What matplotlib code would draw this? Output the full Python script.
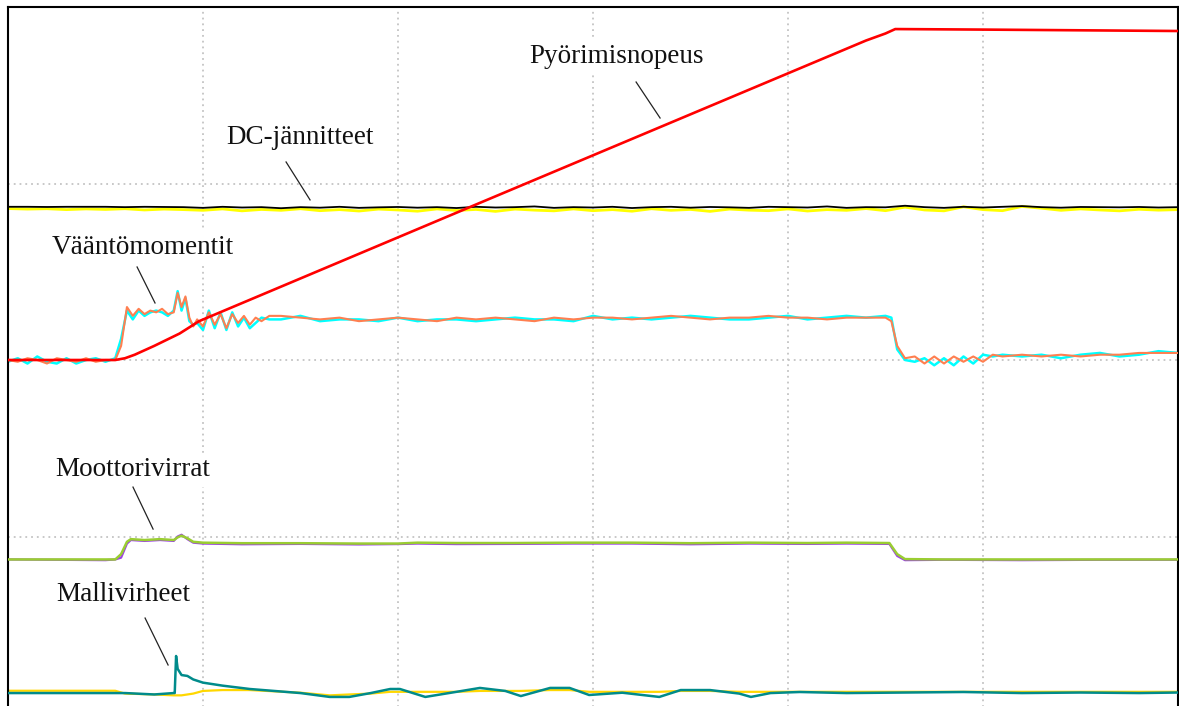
import matplotlib
matplotlib.use("Agg")
import matplotlib.pyplot as plt

# ---------------- data (time and amplitude in screen divisions) ----------------
speed_t = [0.0, 0.55, 0.60, 0.65, 0.75, 0.88, 0.98, 2.37, 4.40, 4.50, 4.55, 5.0, 5.5, 6.0]
speed = [2.0, 2.0, 2.01, 2.03, 2.08, 2.15, 2.22, 2.867, 3.81, 3.85, 3.875, 3.872, 3.868, 3.864]

dc_t = [0.0, 0.1, 0.2, 0.3, 0.4, 0.5, 0.6, 0.7, 0.8, 0.9,
        1.0, 1.1, 1.2, 1.3, 1.4, 1.5, 1.6, 1.7, 1.8, 1.9,
        2.0, 2.1, 2.2, 2.3, 2.4, 2.5, 2.6, 2.7, 2.8, 2.9,
        3.0, 3.1, 3.2, 3.3, 3.4, 3.5, 3.6, 3.7, 3.8, 3.9,
        4.0, 4.1, 4.2, 4.3, 4.4, 4.5, 4.6, 4.7, 4.8, 4.9,
        5.0, 5.1, 5.2, 5.3, 5.4, 5.5, 5.6, 5.7, 5.8, 5.9, 6.0]
dc_black = [2.868, 2.868, 2.867, 2.868, 2.868, 2.868, 2.866, 2.868, 2.867, 2.866,
            2.862, 2.868, 2.864, 2.866, 2.860, 2.866, 2.863, 2.868, 2.862, 2.865,
            2.867, 2.863, 2.866, 2.861, 2.868, 2.864, 2.866, 2.870, 2.862, 2.866,
            2.864, 2.868, 2.861, 2.866, 2.868, 2.863, 2.867, 2.865, 2.862, 2.868,
            2.866, 2.864, 2.870, 2.862, 2.866, 2.865, 2.874, 2.866, 2.862, 2.868,
            2.864, 2.868, 2.872, 2.866, 2.863, 2.867, 2.866, 2.865, 2.867, 2.864, 2.866]
dc_yellow = [2.858, 2.855, 2.857, 2.852, 2.856, 2.853, 2.857, 2.850, 2.855, 2.852,
             2.848, 2.856, 2.845, 2.853, 2.848, 2.857, 2.846, 2.852, 2.844, 2.855,
             2.850, 2.843, 2.856, 2.847, 2.853, 2.842, 2.855, 2.849, 2.845, 2.856,
             2.846, 2.852, 2.843, 2.857, 2.848, 2.853, 2.842, 2.855, 2.849, 2.846,
             2.856, 2.844, 2.852, 2.848, 2.858, 2.846, 2.866, 2.850, 2.845, 2.868,
             2.852, 2.846, 2.870, 2.860, 2.848, 2.856, 2.850, 2.845, 2.854, 2.849, 2.852]

torque_t = ([0.00, 0.05, 0.10, 0.15, 0.20, 0.25, 0.30, 0.35, 0.40, 0.45, 0.50]
            + [0.55, 0.58, 0.61, 0.64, 0.67, 0.70, 0.73, 0.76, 0.79, 0.82, 0.85, 0.87, 0.89, 0.91,
               0.93, 0.95, 0.97, 1.00, 1.03, 1.06, 1.09, 1.12, 1.15, 1.18, 1.21, 1.24, 1.27, 1.30, 1.34]
            + [1.4, 1.5, 1.6, 1.7, 1.8, 1.9, 2.0, 2.1, 2.2, 2.3, 2.4, 2.5, 2.6, 2.7, 2.8, 2.9,
               3.0, 3.1, 3.2, 3.3, 3.4, 3.5, 3.6, 3.7, 3.8, 3.9, 4.0, 4.1, 4.2, 4.3, 4.4, 4.5]
            + [4.53, 4.56, 4.60, 4.65, 4.70, 4.75, 4.80, 4.85, 4.90, 4.95, 5.00, 5.05, 5.10]
            + [5.2, 5.3, 5.4, 5.5, 5.6, 5.7, 5.8, 5.9, 6.0])
torque_orange = ([2.00, 1.99, 2.01, 2.00, 1.98, 2.01, 2.00, 1.99, 2.01, 1.99, 2.00]
                 + [2.00, 2.08, 2.30, 2.25, 2.29, 2.26, 2.28, 2.27, 2.29, 2.26, 2.27, 2.38, 2.30, 2.36,
                    2.24, 2.19, 2.23, 2.19, 2.27, 2.20, 2.26, 2.18, 2.26, 2.21, 2.25, 2.20, 2.24, 2.22, 2.25]
                 + [2.25, 2.24, 2.23, 2.24, 2.22, 2.23, 2.24, 2.23, 2.22, 2.24, 2.23, 2.24, 2.23, 2.22, 2.24, 2.23,
                    2.24, 2.24, 2.23, 2.24, 2.25, 2.24, 2.23, 2.24, 2.24, 2.25, 2.24, 2.24, 2.23, 2.24, 2.24, 2.24]
                 + [2.22, 2.08, 2.01, 2.02, 1.98, 2.02, 1.98, 2.02, 1.99, 2.02, 1.99, 2.03, 2.02]
                 + [2.03, 2.02, 2.03, 2.02, 2.03, 2.03, 2.04, 2.04, 2.04])
torque_cyan = ([1.99, 2.01, 1.98, 2.02, 1.99, 1.98, 2.01, 1.98, 2.00, 2.01, 1.99]
               + [2.01, 2.12, 2.28, 2.23, 2.28, 2.25, 2.27, 2.28, 2.27, 2.25, 2.28, 2.39, 2.28, 2.35,
                  2.22, 2.20, 2.21, 2.17, 2.28, 2.18, 2.27, 2.17, 2.27, 2.19, 2.24, 2.18, 2.21, 2.24, 2.23]
               + [2.23, 2.25, 2.22, 2.23, 2.23, 2.22, 2.24, 2.22, 2.23, 2.23, 2.22, 2.23, 2.24, 2.23, 2.23, 2.22,
                  2.25, 2.23, 2.24, 2.23, 2.24, 2.25, 2.24, 2.23, 2.23, 2.24, 2.25, 2.23, 2.24, 2.25, 2.24, 2.25]
               + [2.24, 2.06, 2.00, 1.99, 2.01, 1.97, 2.01, 1.97, 2.02, 1.98, 2.03, 2.02, 2.03]
               + [2.02, 2.03, 2.01, 2.03, 2.04, 2.02, 2.03, 2.05, 2.04])

cur_t = [0.0, 0.5, 0.55, 0.58, 0.61, 0.63, 0.70, 0.78, 0.85, 0.87, 0.89, 0.92, 0.95, 1.0, 1.2, 1.5, 1.8,
         2.0, 2.1, 2.3, 2.6, 2.9, 3.2, 3.5, 3.8, 4.1, 4.3, 4.52, 4.56, 4.60, 4.8, 5.2, 5.6, 6.0]
cur_green = [0.87, 0.87, 0.87, 0.90, 0.97, 0.985, 0.98, 0.985, 0.98, 0.995, 1.005, 0.99, 0.97, 0.965,
             0.962, 0.962, 0.960, 0.960, 0.965, 0.963, 0.963, 0.965, 0.965, 0.962, 0.965, 0.963, 0.965,
             0.963, 0.90, 0.872, 0.870, 0.870, 0.870, 0.870]
cur_purple = [0.87, 0.866, 0.87, 0.88, 0.96, 0.98, 0.975, 0.98, 0.975, 1.0, 1.01, 0.985, 0.965, 0.96,
              0.956, 0.958, 0.955, 0.957, 0.96, 0.957, 0.958, 0.96, 0.96, 0.956, 0.96, 0.958, 0.96,
              0.958, 0.89, 0.866, 0.868, 0.866, 0.868, 0.868]

me_t = [0.0, 0.3, 0.55, 0.6, 0.75, 0.85, 0.855, 0.862, 0.87, 0.89, 0.92, 0.95, 1.0, 1.1, 1.24, 1.5,
        1.65, 1.75, 1.86, 1.96, 2.01, 2.14, 2.3, 2.42, 2.55, 2.63, 2.78, 2.88, 2.98, 3.15, 3.34, 3.45,
        3.6, 3.75, 3.81, 3.91, 4.06, 4.3, 4.6, 4.9, 5.2, 5.5, 5.8, 6.0]
me_teal = [0.113, 0.113, 0.113, 0.113, 0.105, 0.113, 0.113, 0.323, 0.25, 0.215, 0.21, 0.19, 0.172,
           0.155, 0.136, 0.113, 0.091, 0.091, 0.113, 0.136, 0.136, 0.091, 0.12, 0.142, 0.125, 0.096,
           0.142, 0.142, 0.102, 0.115, 0.091, 0.13, 0.13, 0.11, 0.091, 0.113, 0.119, 0.113, 0.116,
           0.119, 0.113, 0.116, 0.113, 0.116]
me_gold = [0.126, 0.126, 0.126, 0.11, 0.105, 0.10, 0.10, 0.10, 0.10, 0.10, 0.105, 0.11, 0.125, 0.13,
           0.13, 0.115, 0.10, 0.105, 0.11, 0.12, 0.12, 0.12, 0.12, 0.125, 0.125, 0.125, 0.13, 0.13,
           0.12, 0.12, 0.12, 0.125, 0.125, 0.12, 0.12, 0.12, 0.12, 0.12, 0.12, 0.12, 0.12, 0.12, 0.12, 0.12]

labels = ["Pyörimisnopeus", "DC-jännitteet", "Vääntömomentit", "Moottorivirrat", "Mallivirheet"]

# ---------------- figure ----------------
fig = plt.figure(figsize=(11.79, 7.06), dpi=100)
ax = fig.add_axes([8 / 1179, -7 / 706, 1170 / 1179, 1.0])
ax.set_xlim(0, 6)
ax.set_ylim(0, 4)
ax.set_xticks([])
ax.set_yticks([])
for s in ["top", "left", "right"]:
    ax.spines[s].set_linewidth(1.5)
ax.spines["bottom"].set_visible(False)

grid_kw = dict(color="#c4c4c4", lw=1.3, linestyle=(0, (1, 2.2)), zorder=0)
for gx in [1, 2, 3, 4, 5]:
    ax.axvline(gx, **grid_kw)
for gy in [1, 2, 3]:
    ax.axhline(gy, **grid_kw)

ax.plot(dc_t, dc_yellow, color="#ffff00", lw=2.0, zorder=2)
ax.plot(dc_t, dc_black, color="#000000", lw=1.3, zorder=3)

ax.plot(torque_t, torque_cyan, color="#00ffff", lw=1.8, zorder=2)
ax.plot(torque_t, torque_orange, color="#ff7f50", lw=1.5, zorder=3)

ax.plot(cur_t, cur_purple, color="#9b3fe6", lw=1.6, zorder=2)
ax.plot(cur_t, cur_green, color="#9acd32", lw=1.8, zorder=3)

ax.plot(me_t, me_gold, color="#ffd700", lw=1.6, zorder=2)
ax.plot(me_t, me_teal, color="#008b8b", lw=1.8, zorder=3)

ax.plot(speed_t, speed, color="#ff0000", lw=1.9, zorder=4)

# ---------------- labels with leader lines ----------------
label_pos = [(3.12, 3.717), (1.497, 3.263), (0.69, 2.640), (0.638, 1.377), (0.592, 0.669)]
leaders = [((3.221, 3.575), (3.344, 3.371)),
           ((1.426, 3.122), (1.549, 2.907)),
           ((0.662, 2.527), (0.754, 2.323)),
           ((0.641, 1.280), (0.744, 1.042)),
           ((0.703, 0.538), (0.821, 0.272))]
for text, (lx, ly), (p0, p1) in zip(labels, label_pos, leaders):
    ax.text(lx, ly, text, ha="center", va="center", fontsize=19.5,
            family=["Liberation Serif", "DejaVu Serif"], color="#111111",
            bbox=dict(facecolor="white", edgecolor="none", pad=3), zorder=5)
    ax.plot([p0[0], p1[0]], [p0[1], p1[1]], color="#222222", lw=0.9, zorder=5)

fig.savefig("out.png", dpi=100)
